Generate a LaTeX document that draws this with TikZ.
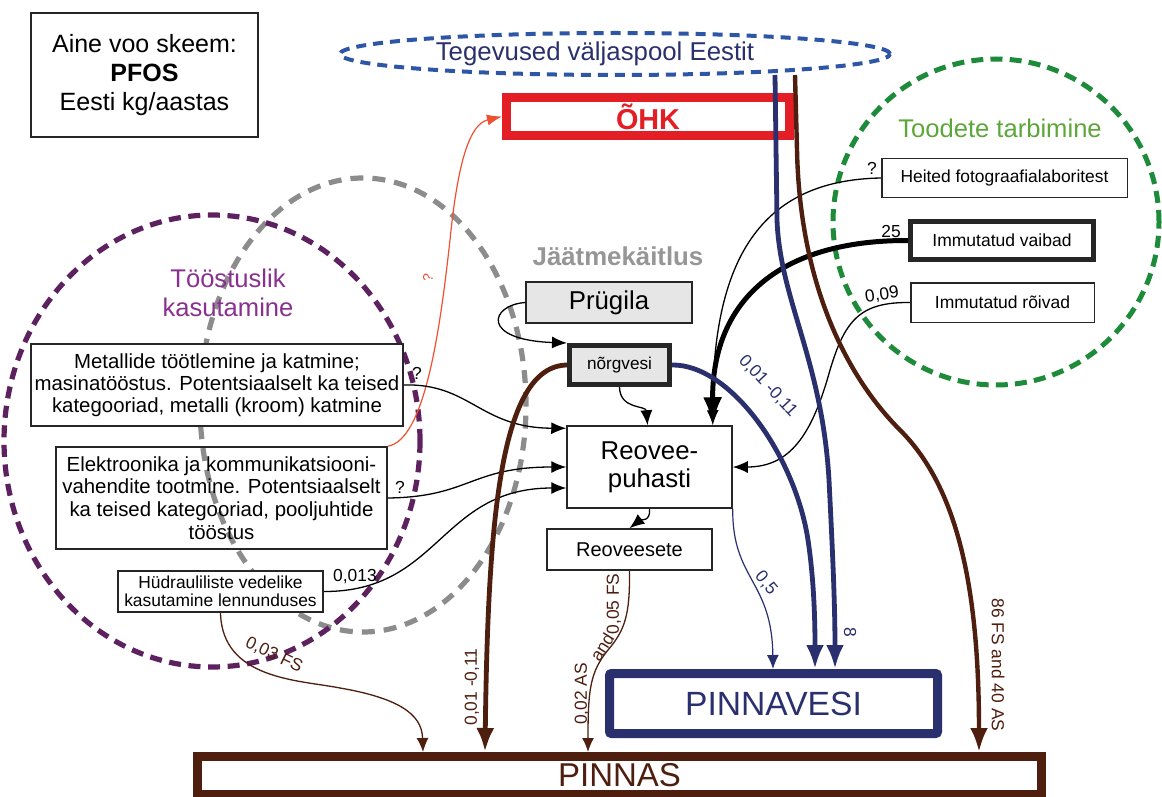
\documentclass[tikz,border=0pt]{standalone}
\usepackage{fontspec}
\setmainfont{Liberation Sans}
\usetikzlibrary{arrows.meta,shapes.geometric}
\definecolor{navy}{RGB}{42,48,110}
\definecolor{brn}{RGB}{78,30,15}
\definecolor{ohkred}{RGB}{227,30,36}
\definecolor{thinred}{RGB}{240,80,50}
\definecolor{grdash}{RGB}{30,139,58}
\definecolor{grtext}{RGB}{93,167,58}
\definecolor{pudash}{RGB}{94,33,96}
\definecolor{putext}{RGB}{138,48,144}
\definecolor{gydash}{RGB}{140,140,140}
\definecolor{gytext}{RGB}{150,150,150}
\definecolor{bldash}{RGB}{46,86,166}
\definecolor{boxgray}{RGB}{230,230,230}
\newcommand{\myfs}[2]{\fontsize{#1}{#2}\selectfont}
\begin{document}
\begin{tikzpicture}[x=0.5pt,y=0.5pt,
  box/.style={draw=black!85, line width=0.75pt, rectangle, inner sep=0pt, align=center, fill=white},
  region/.style={ellipse, inner sep=0pt, line width=2.6pt},
  lab/.style={inner sep=0pt, font=\myfs{8.7}{10}},
  thinarr/.style={black, line width=0.65pt, -{Latex[length=7.5pt,width=6pt]}},
  brthin/.style={brn, line width=0.65pt, -{Latex[length=7pt,width=6pt]}},
  brthick/.style={brn, line width=2.4pt, -{Latex[length=12pt,width=9pt]}},
  blthick/.style={navy, line width=2.4pt, -{Latex[length=12pt,width=9pt]}},
  blthin/.style={navy, line width=0.6pt, -{Latex[length=7pt,width=6pt]}}
]
\path[use as bounding box, fill=white] (0,0) rectangle (1162,-797);

% regions
\node[region, draw=gydash, dash pattern=on 6.5pt off 4.5pt, minimum width=163pt, minimum height=227pt] (jaat) at (363,-405) {};
\node[region, draw=pudash, dash pattern=on 6pt off 3.8pt, minimum width=208pt, minimum height=226pt] (toos) at (212,-441) {};
\node[circle, inner sep=0pt, line width=2.5pt, draw=grdash, dash pattern=on 6pt off 3.6pt, minimum size=163pt] (tood) at (996,-222) {};
\node[region, line width=2pt, draw=bldash, dash pattern=on 5pt off 3.5pt, minimum width=275pt, minimum height=21pt] (teg) at (615,-54) {};

\node[inner sep=0pt, text=navy, font=\myfs{12.9}{15}] (tegtxt) at (595,-54) {Tegevused väljaspool Eestit};
\node[inner sep=0pt, text=grtext, font=\myfs{12.8}{15}] (toodtxt) at (1000,-128) {Toodete tarbimine};
\node[inner sep=0pt, text=gytext, font=\bfseries\myfs{12.9}{15}] (jaattxt) at (618,-256) {Jäätmekäitlus};
\node[inner sep=0pt, text=putext, font=\myfs{12.8}{14.5}, align=center] (toostxt) at (228,-293) {Tööstuslik\\kasutamine};

% boxes
\node[box, minimum width=113.5pt, minimum height=62pt, font=\myfs{12.5}{14.5}] (title) at (144.5,-75) {Aine voo skeem:\\\textbf{PFOS}\\Eesti kg/aastas};
\node[draw=ohkred, line width=4.5pt, inner sep=0pt, minimum width=141.5pt, minimum height=19pt, text=ohkred, font=\bfseries\myfs{14.4}{16}] (ohk) at (648,-116.5) {ÕHK};
\node[box, minimum width=122.75pt, minimum height=19.25pt, font=\myfs{8.7}{10}] (heited) at (1004.5,-178) {Heited fotograafialaboritest};
\node[box, line width=2.5pt, minimum width=91.5pt, minimum height=19pt, font=\myfs{8.75}{10}] (vaibad) at (1002,-240.5) {Immutatud vaibad};
\node[box, minimum width=91.75pt, minimum height=19.75pt, font=\myfs{8.75}{10}] (roivad) at (1002.5,-302.5) {Immutatud rõivad};
\node[box, minimum width=186pt, minimum height=41pt, font=\myfs{10.2}{11}] (metal) at (217,-385) {Metallide töötlemine ja katmine;\\masinatööstus. Potentsiaalselt ka teised\\kategooriad, metalli (kroom) katmine};
\node[box, fill=none, minimum width=165.5pt, minimum height=51pt, font=\myfs{10.2}{11.3}] (elek) at (221.5,-498) {Elektroonika ja kommunikatsiooni-\\vahendite tootmine. Potentsiaalselt\\ka teised kategooriad, pooljuhtide\\tööstus};
\node[box, minimum width=102.5pt, minimum height=20.5pt, font=\myfs{8.7}{9}] (hydr) at (220.5,-591.5) {Hüdrauliliste vedelike\\kasutamine lennunduses};
\node[box, minimum width=82.5pt, minimum height=41pt, font=\myfs{12.9}{14}] (reov) at (649.5,-467) {Reovee-\\puhasti};
\node[box, fill=boxgray, minimum width=83pt, minimum height=20.5pt, font=\myfs{12.9}{14}] (prug) at (609,-302.5) {Prügila};
\node[box, fill=boxgray, line width=2.5pt, minimum width=50pt, minimum height=19.5pt, font=\myfs{8.6}{10}] (norg) at (619.5,-365) {nõrgvesi};
\node[box, minimum width=82.5pt, minimum height=20.5pt, font=\myfs{10}{11}] (sete) at (629.5,-549.5) {Reoveesete};
\node[draw=navy, line width=4.5pt, rounded corners=1pt, inner sep=0pt, fill=white, minimum width=164pt, minimum height=30pt, text=navy, font=\myfs{16.8}{18}] (pinnavesi) at (773.5,-703.5) {PINNAVESI};
\node[draw=brn, line width=4.5pt, inner sep=0pt, fill=white, minimum width=422pt, minimum height=19pt, text=brn, font=\myfs{16.5}{18}] (pinnas) at (619.5,-775.5) {PINNAS};

\coordinate (bt1) at (775,-75);
\coordinate (bt2) at (795,-75);

% red flow to air
\draw[thinred, line width=0.6pt, -{Latex[length=7.5pt,width=5.5pt]}] (elek.north east) .. controls (425,-440) and (440,-330) .. (450,-240) .. controls (458,-160) and (470,-124) .. (ohk.west);

% black flows into WWTP
\draw[thinarr] (metal.east) .. controls (470,-383) and (480,-428) .. ([yshift=-1.5pt]reov.north west);
\draw[thinarr] (elek.east) .. controls (470,-497) and (470,-467) .. (reov.west);
\draw[thinarr] (hydr.east) .. controls (440,-592) and (440,-488) .. ([yshift=-10.5pt]reov.west);
\draw[thinarr] (prug.west) .. controls (490,-305) and (480,-340) .. (norg.north west);
\draw[thinarr] (norg.south) .. controls (620,-410) and (646,-405) .. ([xshift=-1pt]reov.north);
\draw[thinarr] (reov.south) .. controls (651,-522) and (640,-520) .. (sete.north);
\draw[thinarr] (heited.west) .. controls (760,-180) and (712,-260) .. ([xshift=-10pt]reov.north east);
\draw[black, line width=2.5pt, -{Latex[length=14pt,width=9.5pt]}] (vaibad.west) .. controls (780,-240) and (712,-300) .. ([xshift=-10pt]reov.north east);
\draw[thinarr] (roivad.west) .. controls (860,-302) and (845,-320) .. (830,-370) .. controls (812,-435) and (790,-467) .. (reov.east);

% brown flows to soil
\draw[brthin] (hydr.south) .. controls (222,-680) and (300,-680) .. (340,-688) .. controls (410,-700) and (422,-720) .. ([xshift=-98.25pt]pinnas.north);
\draw[brthick] (norg.west) .. controls (500,-366) and (488,-520) .. ([xshift=-67.25pt]pinnas.north);
\draw[brthin] (sete.south) .. controls (630,-615) and (625,-630) .. (608,-650) .. controls (590,-672) and (588,-690) .. ([xshift=-15.75pt]pinnas.north);
\draw[brthick, line width=2.2pt] (bt2) -- (797,-150) .. controls (800,-290) and (850,-380) .. (900,-430) .. controls (955,-485) and (979,-580) .. ([xshift=179.75pt]pinnas.north);

% blue flows to surface water
\draw[blthick] (bt1) -- (777,-220) .. controls (780,-300) and (822,-360) .. (829,-480) .. controls (832,-540) and (835,-600) .. ([xshift=30.75pt]pinnavesi.north);
\draw[blthick] (norg.east) .. controls (730,-364) and (795,-455) .. (808,-540) .. controls (814,-580) and (815,-620) .. ([xshift=20.75pt]pinnavesi.north);
\draw[blthin] (reov.south east) .. controls (732,-580) and (772,-580) .. ([xshift=-0.25pt]pinnavesi.north);

% labels
\node[lab, text=thinred, font=\myfs{7}{8}, rotate=80] (lq0) at (428,-278) {?};
\node[lab] (lq1) at (417,-373) {?};
\node[lab] (lq2) at (400,-487) {?};
\node[lab] (l013) at (355,-577) {0,013};
\node[lab] (lq3) at (872,-168) {?};
\node[lab] (l25) at (891,-232) {25};
\node[lab, rotate=8] (l009) at (882,-295) {0,09};
\node[lab, text=navy, rotate=-47] (lbl1) at (768,-386) {0,01 -0,11};
\node[lab, text=brn, rotate=90] (lbr1) at (472,-687) {0,01 -0,11};
\node[lab, text=brn, rotate=-26] (lbr2) at (274,-655) {0,03 FS};
\node[lab, text=navy, rotate=-50] (l05) at (766,-583) {0,5};
\node[lab, text=navy, rotate=-90] (l8) at (850,-632) {8};
\node[lab, text=brn, rotate=-90] (l86) at (998,-665) {86 FS and 40 AS};
\node[lab, text=brn, rotate=90] (lbr3a) at (582,-694) {0,02 AS};
\node[lab, text=brn, rotate=58] (lbr3b) at (602,-647) {and};
\node[lab, text=brn, rotate=90] (lbr3c) at (614,-604) {0,05 FS};
\end{tikzpicture}
\end{document}
